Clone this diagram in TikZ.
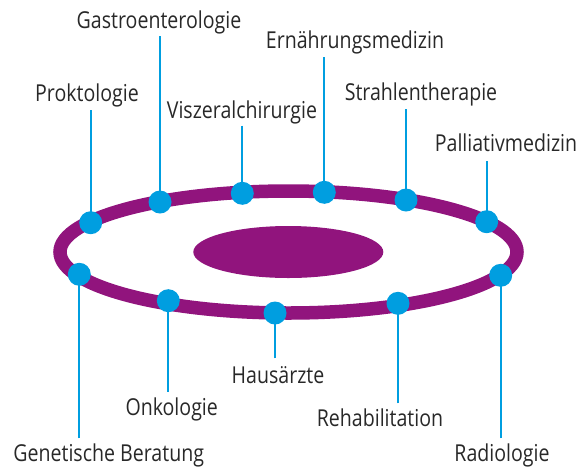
\documentclass[tikz,border=0pt]{standalone}
\usepackage{fontspec}
\setmainfont[FakeStretch=0.84]{Open Sans}
\definecolor{ringpurple}{RGB}{145,20,125}
\definecolor{dotblue}{RGB}{0,158,224}
\definecolor{txt}{RGB}{40,40,40}
\begin{document}
\begin{tikzpicture}[x=1pt,y=-1pt,
  lbl/.style={anchor=base,inner sep=0pt,text=txt,font=\fontsize{23.3}{26}\selectfont},
  dot/.style={circle,fill=dotblue,minimum size=23pt,inner sep=0pt},
  conn/.style={draw=dotblue,line width=2.2pt}]
\useasboundingbox (0,0) rectangle (578,467);
% ring and centre
\draw[ringpurple,line width=13.5pt] (288.5,252) ellipse [x radius=228.5, y radius=61];
\fill[ringpurple] (288.3,252) ellipse [x radius=95, y radius=26];
% labels
\node[lbl] (l1) at (87,101.7) {Proktologie};
\node[lbl] (l2) at (159,28.3) {Gastroenterologie};
\node[lbl] (l3) at (242,118.3) {Viszeralchirurgie};
\node[lbl] (l4) at (355,48.3) {Ernährungsmedizin};
\node[lbl] (l5) at (421,100) {Strahlentherapie};
\node[lbl] (l6) at (506,151.7) {Palliativmedizin};
\node[lbl] (l7) at (108.7,461.7) {Genetische Beratung};
\node[lbl] (l8) at (171.7,415) {Onkologie};
\node[lbl] (l9) at (278,383.3) {Hausärzte};
\node[lbl] (l10) at (380,426.7) {Rehabilitation};
\node[lbl] (l11) at (502,461.7) {Radiologie};
% line ends
\coordinate (e1) at (90.7,110);
\coordinate (e2) at (160,36);
\coordinate (e3) at (242.3,125.7);
\coordinate (e4) at (324.3,57.3);
\coordinate (e5) at (406,109);
\coordinate (e6) at (486.7,161.3);
\coordinate (e7) at (79.3,438.3);
\coordinate (e8) at (168.3,391.7);
\coordinate (e9) at (275,358.3);
\coordinate (e10) at (398,403.3);
\coordinate (e11) at (500.7,438.3);
% dots
\coordinate (c1) at (90.7,222.7);
\coordinate (c2) at (160,202);
\coordinate (c3) at (242.3,193.3);
\coordinate (c4) at (324.3,192.3);
\coordinate (c5) at (406,200);
\coordinate (c6) at (486.7,221.7);
\coordinate (c7) at (79.3,274.3);
\coordinate (c8) at (168.3,300.7);
\coordinate (c9) at (275,313);
\coordinate (c10) at (398,303.3);
\coordinate (c11) at (500.7,275.3);
\foreach \i in {1,...,11}{
  \draw[conn] (e\i) -- (c\i);
  \node[dot] (d\i) at (c\i) {};
}
\end{tikzpicture}
\end{document}
